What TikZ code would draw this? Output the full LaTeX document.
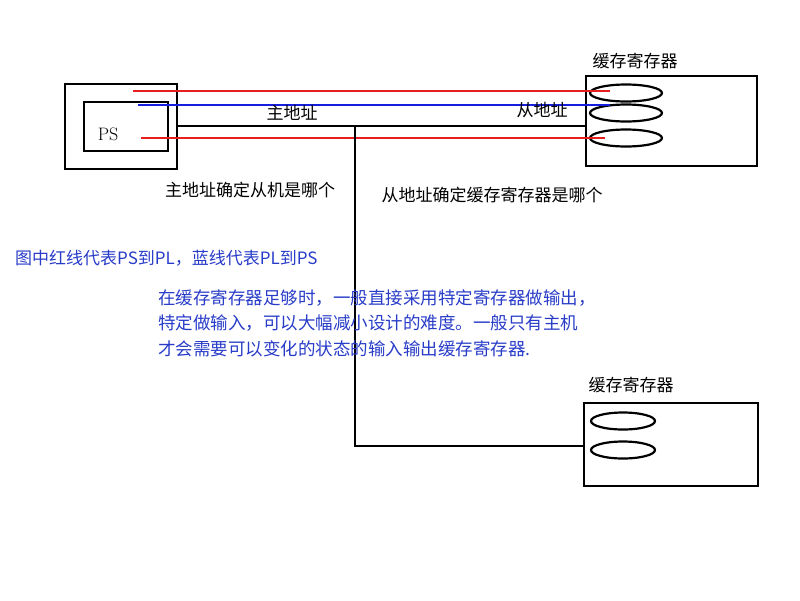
\documentclass[tikz,border=0pt]{standalone}
\usepackage{fontspec}
\usetikzlibrary{shapes.geometric}
\newfontfamily\cjk{Noto Sans CJK SC}
\begin{document}
\begin{tikzpicture}[x=1pt,y=-1pt,
  lbl/.style={font=\cjk\fontsize{17}{19}\selectfont,inner sep=0pt},
  blu/.style={lbl,text={rgb,255:red,40;green,60;blue,200}},
  box/.style={draw,line width=2.2pt},
  red/.style={draw={rgb,255:red,230;green,30;blue,30},line width=2.6pt},
  bl/.style={draw={rgb,255:red,20;green,30;blue,220},line width=2.6pt},
  ell/.style={draw,line width=2.2pt,ellipse,minimum width=72pt,minimum height=17pt,inner sep=0pt}]
\useasboundingbox (0,0) rectangle (800,600);
\node[box,minimum width=112pt,minimum height=85pt,anchor=north west] (outer) at (64,83) {};
\node[box,minimum width=84pt,minimum height=49pt,anchor=north west] (inner) at (83,101) {};
\node[font=\fontsize{18}{20}\selectfont] (ps) at (108,134) {PS};
\node[box,minimum width=171pt,minimum height=90pt,anchor=north west] (r1) at (585,75) {};
\node[box,minimum width=174pt,minimum height=83pt,anchor=north west] (r2) at (583,402) {};
\node[ell] (e1) at (626,93) {};
\node[ell] (e2) at (626,113) {};
\node[ell] (e3) at (626,138) {};
\node[ell,minimum width=64pt] (e4) at (623,421) {};
\node[ell,minimum width=64pt] (e5) at (623,450) {};
\coordinate (a1) at (133,91); \coordinate (b1) at (610,91);
\coordinate (a2) at (138,105); \coordinate (b2) at (610,105);
\coordinate (a3) at (141,138); \coordinate (b3) at (605,138);
\coordinate (j) at (355,126); \coordinate (jb) at (355,446);
\coordinate (k) at (585,126); \coordinate (kb) at (583,446);
\draw[red] (a1) -- (b1);
\draw[bl] (a2) -- (b2);
\draw[red] (a3) -- (b3);
\draw[line width=2.2pt] (outer.east |- j) -- (k);
\draw[line width=2.2pt] (j) -- (jb) -- (kb);
\node[lbl] (t1) at (292,113) {主地址};
\node[lbl] (t2) at (542,110) {从地址};
\node[lbl] (t3) at (635,61) {缓存寄存器};
\node[lbl] (t4) at (631,385) {缓存寄存器};
\node[lbl] (t5) at (250,190) {主地址确定从机是哪个};
\node[lbl] (t6) at (492,195) {从地址确定缓存寄存器是哪个};
\node[blu,anchor=west] (t7) at (15,258) {图中红线代表PS到PL，蓝线代表PL到PS};
\node[blu,anchor=north west,align=left,font=\cjk\fontsize{17.5}{25.5}\selectfont] (t8) at (158,289)
 {在缓存寄存器足够时，一般直接采用特定寄存器做输出，\\特定做输入，可以大幅减小设计的难度。一般只有主机\\才会需要可以变化的状态的输入输出缓存寄存器.};
\end{tikzpicture}
\end{document}
